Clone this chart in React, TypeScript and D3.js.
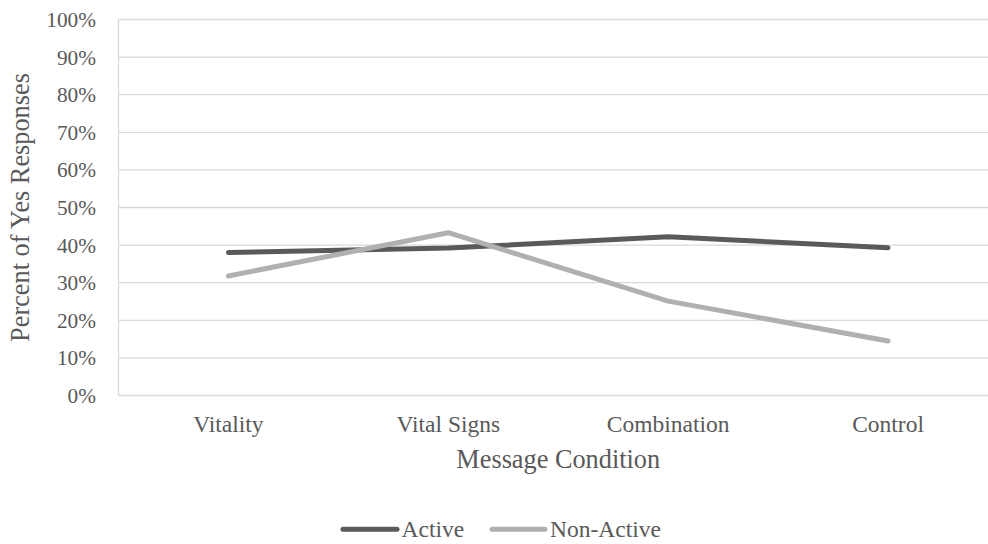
import React from "react";
import * as d3 from "d3";

const categories = ["Vitality", "Vital Signs", "Combination", "Control"];
const activeValues = [0.38, 0.392, 0.422, 0.393];
const nonActiveValues = [0.318, 0.433, 0.251, 0.145];
const yTicks = [0, 0.1, 0.2, 0.3, 0.4, 0.5, 0.6, 0.7, 0.8, 0.9, 1.0];

const seriesList = [
  { name: "Active", values: activeValues, color: "#5a5a5a" },
  { name: "Non-Active", values: nonActiveValues, color: "#b0b0b0" },
];

const W = 988;
const H = 544;
const left = 118.5;
const right = 998;
const top = 19.5;
const bottom = 395.5;
const font = "'Liberation Serif', 'Times New Roman', serif";
const textColor = "#595959";

export default function App() {
  const x = d3.scaleBand<string>().domain(categories).range([left, right]).padding(0);
  const y = d3.scaleLinear().domain([0, 1]).range([bottom, top]);
  const cx = (c: string) => (x(c) as number) + x.bandwidth() / 2;
  const line = d3
    .line<number>()
    .x((_, i) => cx(categories[i]))
    .y((v) => y(v));

  const legendItems = [
    { x1: 343, x2: 397, tx: 401.5 },
    { x1: 492, x2: 545, tx: 550 },
  ];

  return (
    <div style={{ position: "fixed", left: 0, top: 0, width: W, height: H, overflow: "hidden", background: "#fff" }}>
      <svg width={W} height={H} style={{ display: "block" }} fontFamily={font}>
        <rect x={0} y={0} width={W} height={H} fill="#fff" />
        {yTicks.map((t) => (
          <line key={t} x1={left} x2={right} y1={y(t)} y2={y(t)} stroke="#d9d9d9" strokeWidth={1.3} />
        ))}
        <line x1={left} x2={left} y1={top} y2={bottom} stroke="#d9d9d9" strokeWidth={1.3} />
        {yTicks.map((t) => (
          <text key={"l" + t} x={96} y={y(t) + 7.5} textAnchor="end" fontSize={21.3} fill={textColor}>
            {`${Math.round(t * 100)}%`}
          </text>
        ))}
        {categories.map((c) => (
          <text key={c} x={cx(c)} y={431.5} textAnchor="middle" fontSize={23.5} fill={textColor}>
            {c}
          </text>
        ))}
        <text x={(left + right) / 2} y={468} textAnchor="middle" fontSize={26.3} fill={textColor}>
          Message Condition
        </text>
        <text
          transform={`translate(29,${(top + bottom) / 2}) rotate(-90)`}
          textAnchor="middle"
          fontSize={26.3}
          fill={textColor}
        >
          Percent of Yes Responses
        </text>
        {seriesList.map((s) => (
          <path
            key={s.name}
            d={line(s.values) || ""}
            fill="none"
            stroke={s.color}
            strokeWidth={5}
            strokeLinecap="round"
            strokeLinejoin="round"
          />
        ))}
        {seriesList.map((s, i) => (
          <g key={"lg" + s.name}>
            <line
              x1={legendItems[i].x1}
              x2={legendItems[i].x2}
              y1={529.3}
              y2={529.3}
              stroke={s.color}
              strokeWidth={5}
              strokeLinecap="round"
            />
            <text x={legendItems[i].tx} y={537} fontSize={23.5} fill={textColor}>
              {s.name}
            </text>
          </g>
        ))}
      </svg>
    </div>
  );
}
